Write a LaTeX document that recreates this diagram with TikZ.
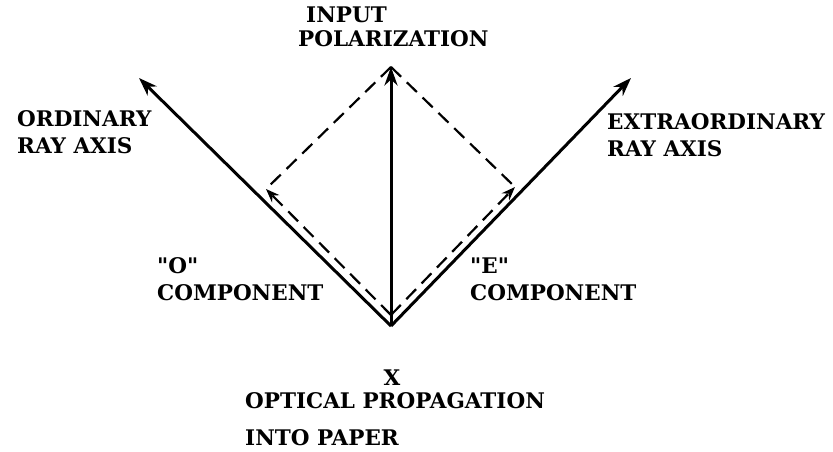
\documentclass[tikz,border=0pt]{standalone}
\usepackage{fontspec}
\setmainfont{DejaVu Serif}[Ligatures=TeXOff]
\usetikzlibrary{arrows.meta}
\tikzset{
  axis/.style={-{Stealth[length=6.5mm,width=4.6mm]}, line width=3pt},
  comp/.style={-{Stealth[length=4.8mm,width=3.6mm]}, line width=2.2pt, dash pattern=on 14pt off 8pt},
  proj/.style={line width=2.2pt, dash pattern=on 14pt off 8pt},
  lbl/.style={font=\fontsize{21.5}{27}\selectfont\bfseries, align=left, inner sep=0pt, anchor=base west},
}
\begin{document}
\begin{tikzpicture}[x=1pt,y=-1pt]
  \useasboundingbox (0,0) rectangle (833,452);
  \coordinate (origin) at (391,326);
  \coordinate (cstart) at (391,315);
  \coordinate (otip) at (139,78);
  \coordinate (etip) at (631,78);
  \coordinate (ptip) at (391,67);
  \coordinate (ocomp) at (266,189);
  \coordinate (ecomp) at (515,187);
  % axes and input polarization
  \draw[axis] (origin) -- (otip);
  \draw[axis] (origin) -- (etip);
  \draw[axis] (origin) -- (ptip);
  % components
  \draw[comp] (cstart) -- (ocomp);
  \draw[comp] (cstart) -- (ecomp);
  \draw[proj] (ptip) -- (ocomp);
  \draw[proj] (ptip) -- (ecomp);
  % labels (anchor is the last line)
  \node[lbl] (inlab) at (298,47) {\hspace{8pt}INPUT\\[-3pt]POLARIZATION};
  \node[lbl] (ordlab) at (17,153) {ORDINARY\\RAY AXIS};
  \node[lbl] (extlab) at (607,156) {EXTRAORDINARY\\RAY AXIS};
  \node[lbl] (olab) at (157,300) {"O"\\COMPONENT};
  \node[lbl] (elab) at (470,300) {"E"\\COMPONENT};
  \node[lbl, anchor=base] (xlab) at (392,385) {X};
  \node[lbl] (proplab) at (245,445) {OPTICAL PROPAGATION\\[10pt]INTO PAPER};
\end{tikzpicture}
\end{document}
